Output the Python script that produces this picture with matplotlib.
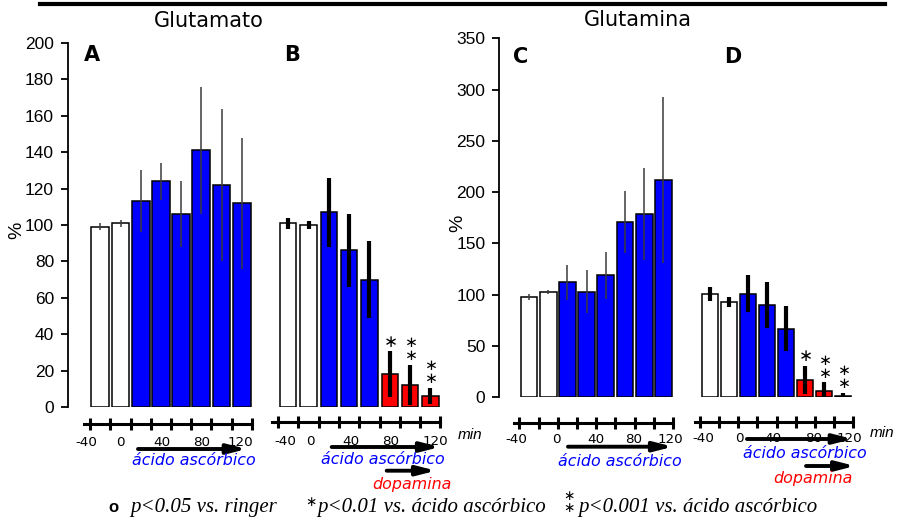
import matplotlib
matplotlib.use('Agg')
import matplotlib.pyplot as plt
from matplotlib import transforms
from matplotlib.textpath import TextPath

W, H = 907, 518   # figure size in pixels
PT = 100 / 72     # pixels per point

# ---------------------------------------------------------------------------
# data (% of basal), one bar per 20-min sample
times = [-30, -10, 10, 30, 50, 70, 90, 110]          # centre of each sample (min)
time_ticks = [-40, -20, 0, 20, 40, 60, 80, 100, 120]
time_labels = ['-40', '0', '40', '80', '120']

glu_A = [99, 101, 113, 124, 106, 141, 122, 112]
glu_A_err = [2, 2, 17, 10, 18, 35, 42, 36]
glu_B = [101, 100, 107, 86, 70, 18, 12, 6]
glu_B_err = [3, 2, 19, 20, 21, 12.5, 11, 4.5]

gln_C = [98, 103, 112, 103, 119, 171, 179, 212]
gln_C_err = [3, 2, 17, 21, 23, 30, 45, 81]
gln_D = [101, 93, 101, 90, 67, 17, 6.5, 1.6]
gln_D_err = [7, 4.5, 18, 22, 22, 14, 8, 2.5]

stars_dop = [0, 0, 0, 0, 0, 1, 2, 2]   # number of * above each bar (B and D)

BLUE = '#0000ff'
RED = '#ff0000'
colors_asc = ['white', 'white'] + [BLUE] * 6
colors_dop = ['white', 'white'] + [BLUE] * 3 + [RED] * 3

SANS = ['DejaVu Sans']
ARIAL = ['Liberation Sans', 'DejaVu Sans']
SERIF = ['Liberation Serif', 'DejaVu Serif']

STAR1 = r'$\ast$'
STAR2 = r'$\genfrac{}{}{0}{0}{\ast}{\ast}$'    # two asterisks, stacked


def star1(ink_px):
    # size (pt) of a single asterisk with ink ink_px tall, ink centre (pt)
    e = TextPath((0, 0), STAR1, size=10).get_extents()
    fs = 10 * (ink_px / PT) / (e.y1 - e.y0)
    return fs, (e.y0 + e.y1) / 2 * fs / 10


def star2(sep_px):
    # size (pt) of the stacked pair with centres sep_px apart,
    # ink centre and ink half height of the pair (pt)
    e = TextPath((0, 0), STAR2, size=10).get_extents()
    one = TextPath((0, 0), STAR1, size=10).get_extents()
    sep = (e.y1 - e.y0) - (one.y1 - one.y0)
    fs = 10 * (sep_px / PT) / sep
    k = fs / 10
    return fs, (e.y0 + e.y1) / 2 * k, (e.y1 - e.y0) / 2 * k


fig = plt.figure(figsize=(W / 100, H / 100), dpi=100)


def fx(px):
    return px / W


def fy(py):
    return 1 - py / H


def panel(box, t40, ppm, vals, errs, colors, width, ymax, ystep, thin,
          lab_pos, spine_off, lab_pad, stars=None, show_y=True):
    x0, x1, ytop, ybot = box
    ax = fig.add_axes([fx(x0), fy(ybot), (x1 - x0) / W, (ybot - ytop) / H])
    ax.set_xlim(40 - (t40 - x0) / ppm, 40 + (x1 - t40) / ppm)
    ax.set_ylim(0, ymax)
    ax.patch.set_visible(False)

    if thin:
        ekw = dict(ecolor='#3a3a3a', elinewidth=1.1, capsize=0)
    else:
        ekw = dict(ecolor='black', elinewidth=3.0, capsize=0)
    ax.bar(times, vals, width=width, color=colors, edgecolor='black',
           linewidth=1.1, yerr=errs, error_kw=ekw)

    # asterisks above the dopamine bars
    if stars is not None:
        fs1, mid1 = star1(10.5)
        fs2, mid2, _ = star2(13.5)
        for t, v, e, n in zip(times, vals, errs, stars):
            if n == 1:
                ax.annotate(STAR1, (t, v + e), xytext=(0, 6.8 - mid1),
                            textcoords='offset points', ha='center',
                            va='baseline', fontsize=fs1)
            elif n == 2:
                ax.annotate(STAR2, (t, v + e), xytext=(0, 11.3 - mid2),
                            textcoords='offset points', ha='center',
                            va='baseline', fontsize=fs2)

    for s in ['top', 'right']:
        ax.spines[s].set_visible(False)
    if show_y:
        ax.spines['left'].set_bounds(0, ymax)
        ax.spines['left'].set_linewidth(1.3)
        ax.set_yticks(range(0, ymax + 1, ystep))
        ax.tick_params(axis='y', direction='out', length=5, width=1.3,
                       pad=5, labelsize=12.5)
        for lab in ax.get_yticklabels():
            lab.set_family(ARIAL)
    else:
        ax.spines['left'].set_visible(False)
        ax.set_yticks([])

    # time axis, detached below the bars
    bsp = ax.spines['bottom']
    bsp.set_position(('outward', spine_off))
    bsp.set_bounds(-46, 120)
    bsp.set_linewidth(2.2)
    ax.set_xticks(time_ticks)
    ax.set_xticklabels([])
    ax.tick_params(axis='x', which='major', direction='inout', length=8,
                   width=2.2)
    ax.set_xticks(lab_pos, labels=time_labels, minor=True)
    ax.tick_params(axis='x', which='minor', length=0, pad=lab_pad,
                   labelsize=9.7)
    for lab in ax.get_xticklabels(minor=True):
        lab.set_family(SANS)
    return ax


def arrow(ax, t0, t1, py):
    tr = transforms.blended_transform_factory(ax.transData, fig.transFigure)
    ax.annotate('', xy=(t1, fy(py)), xytext=(t0, fy(py)), xycoords=tr,
                textcoords=tr, annotation_clip=False,
                arrowprops=dict(arrowstyle='-|>,head_length=1.1,head_width=0.28',
                                lw=2.8, color='black', shrinkA=0, shrinkB=0))


def note(ax, t, py, s, color):
    tr = transforms.blended_transform_factory(ax.transData, fig.transFigure)
    ax.text(t, fy(py), s, transform=tr, ha='center', va='center',
            color=color, fontsize=11.4, style='italic', family=SANS,
            clip_on=False)


axA = panel((68, 255, 43, 407), 171, 1.01, glu_A, glu_A_err, colors_asc, 17.6,
            200, 20, True, [-43.5, -10.5, 30.8, 70.4, 109], 12, 8.9)
axB = panel((265, 445, 43, 407), 359.3, 1.015, glu_B, glu_B_err, colors_dop,
            16.2, 200, 20, False, [-33.2, -8.6, 31.8, 70.9, 114.6], 11, 8.9,
            stars=stars_dop, show_y=False)
axC = panel((499.3, 680, 38.3, 397.3), 596.2, 0.96, gln_C, gln_C_err,
            colors_asc, 17.3, 350, 50, True, [-42.8, -1.1, 39.5, 79.4, 116.9],
            18.4, 7.6)
axD = panel((690, 860, 38.3, 397.3), 776.5, 0.953, gln_D, gln_D_err,
            colors_dop, 17.2, 350, 50, False, [-37.1, 0.7, 36.4, 79.4, 116.1],
            17.7, 7.6, stars=stars_dop, show_y=False)

# treatment arrows
arrow(axA, 7.3, 115, 449)
note(axA, 62.8, 460.7, 'ácido ascórbico', BLUE)
arrow(axB, 12.8, 119.5, 447)
note(axB, 63.3, 459, 'ácido ascórbico', BLUE)
arrow(axB, 67, 115.6, 470.7)
note(axB, 91.6, 485, 'dopamina', RED)
arrow(axC, 10.6, 120, 446.7)
note(axC, 64.8, 461.7, 'ácido ascórbico', BLUE)
arrow(axD, 9, 120, 439)
note(axD, 69.9, 453, 'ácido ascórbico', BLUE)
arrow(axD, 71, 122.5, 466)
note(axD, 78.3, 479, 'dopamina', RED)

# y labels (baseline on the right of the rotated glyph), titles, letters
for x, y in [(21, 230), (462, 223)]:
    fig.text(fx(x), fy(y), '%', rotation=90, rotation_mode='anchor',
             ha='center', va='baseline', fontsize=14, family=ARIAL)
fig.text(fx(209), fy(21), 'Glutamato', ha='center', va='center',
         fontsize=15, family=SANS)
fig.text(fx(638), fy(20), 'Glutamina', ha='center', va='center',
         fontsize=15, family=SANS)
for s, x, y in [('A', 91.7, 55), ('B', 292, 55), ('C', 521, 56.7),
                ('D', 733, 57)]:
    fig.text(fx(x), fy(y), s, ha='center', va='center', fontsize=15,
             fontweight='bold', family=SANS)
fig.text(fx(458), fy(435), 'min', ha='left', va='center', fontsize=11,
         style='italic', family=ARIAL)
fig.text(fx(870), fy(432.7), 'min', ha='left', va='center', fontsize=11,
         style='italic', family=ARIAL)

# rule across the top
fig.add_artist(plt.Line2D([fx(40), fx(885)], [fy(3.5), fy(3.5)],
                          color='black', lw=3))

# significance key
KEY_FS = 15
fig.text(fx(113), fy(508), 'o', ha='center', va='center', fontsize=12,
         fontweight='bold', family=ARIAL)
fig.text(fx(130), fy(511.7), 'p<0.05 vs. ringer', ha='left',
         va='baseline', fontsize=KEY_FS, style='italic', family=SERIF)
kfs1, kmid1 = star1(8.5)
fig.text(fx(311), fy(502 + kmid1 * PT), STAR1, ha='center', va='baseline',
         fontsize=kfs1)
kfs2, kmid2, khalf = star2(12)
kc = min(507.9, 513 - khalf * PT)      # keep the pair inside the figure
fig.text(fx(569), fy(kc + kmid2 * PT), STAR2, ha='center', va='baseline',
         fontsize=kfs2)
fig.text(fx(317), fy(511.7), 'p<0.01 vs. ácido ascórbico', ha='left',
         va='baseline', fontsize=KEY_FS, style='italic', family=SERIF)
fig.text(fx(578), fy(511.7), 'p<0.001 vs. ácido ascórbico', ha='left',
         va='baseline', fontsize=KEY_FS, style='italic', family=SERIF)

fig.savefig('out.png', dpi=100)
